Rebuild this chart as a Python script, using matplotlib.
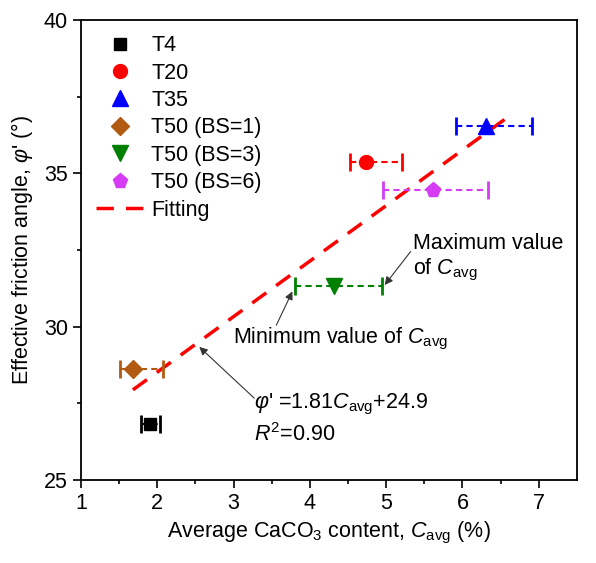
import matplotlib
matplotlib.use('Agg')
import matplotlib.pyplot as plt
from matplotlib.lines import Line2D
import numpy as np

plt.rcParams['font.family'] = ['Liberation Sans', 'DejaVu Sans']
plt.rcParams['mathtext.fontset'] = 'custom'
plt.rcParams['mathtext.rm'] = 'Liberation Sans'
plt.rcParams['mathtext.it'] = 'Liberation Sans:italic'
plt.rcParams['mathtext.bf'] = 'Liberation Sans:bold'

# data
labels = ['T4', 'T20', 'T35', 'T50 (BS=1)', 'T50 (BS=3)', 'T50 (BS=6)']
c_avg = [1.91, 4.74, 6.31, 1.68, 4.32, 5.61]
c_min = [1.79, 4.52, 5.92, 1.51, 3.81, 4.96]
c_max = [2.04, 5.21, 6.91, 2.07, 4.94, 6.33]
phi = [26.82, 35.38, 36.56, 28.63, 31.32, 34.45]
colors = ['black', 'red', 'blue', '#b05a12', 'green', '#d63cf5']
markers = ['s', 'o', '^', 'D', 'v', 'p']
msizes = [8, 10, 11, 9, 11, 11]

fit_slope = 1.81
fit_icpt = 24.9
fit_x = [1.68, 6.55]

FS = 15.5

fig = plt.figure(figsize=(5.96, 5.63), dpi=100)
ax = fig.add_axes([0.136, 0.1474, 0.832, 0.817])

handles = []
for i in range(len(labels)):
    xe = [[c_avg[i] - c_min[i]], [c_max[i] - c_avg[i]]]
    ln, caps, bars = ax.errorbar(c_avg[i], phi[i], xerr=xe, fmt=markers[i],
                                 color=colors[i], ms=msizes[i], capsize=6.5,
                                 capthick=2, elinewidth=1.5, zorder=3)
    for b in bars:
        b.set_linestyle((0, (3, 2)))
    handles.append(Line2D([], [], ls='none', marker=markers[i], color=colors[i],
                          ms=msizes[i], label=labels[i]))

fx = np.array(fit_x)
fl, = ax.plot(fx, fit_slope * fx + fit_icpt, color='red', ls=(0, (5, 3.5)), lw=2.5,
              label='Fitting', zorder=2)
handles.append(fl)

ax.set_xlim(1, 7.5)
ax.set_ylim(25, 40)
ax.set_xticks([1, 2, 3, 4, 5, 6, 7])
ax.set_xticks(np.arange(1.5, 7.5, 1), minor=True)
ax.set_yticks([25, 30, 35, 40])
ax.set_yticks([27.5, 32.5, 37.5], minor=True)
ax.tick_params(which='major', direction='out', length=6, width=1.2, labelsize=FS)
ax.tick_params(which='minor', direction='out', length=3, width=1.2)
for s in ax.spines.values():
    s.set_linewidth(1.3)

ax.set_xlabel(r'Average CaCO$_3$ content, $C_{\rm avg}$ (%)', fontsize=FS)
ax.set_ylabel(r"Effective friction angle, $\varphi$' (°)", fontsize=FS, labelpad=6)

ax.legend(handles=handles, loc='upper left', frameon=False, fontsize=FS,
          handletextpad=0.35, handlelength=2.2, labelspacing=0.3,
          borderaxespad=0.3)

arrow = dict(arrowstyle='-|>', color='#333333', lw=0.8, mutation_scale=12,
             shrinkA=0, shrinkB=0)
ax.text(5.35, 32.24, 'Maximum value\nof $C_{\\rm avg}$', fontsize=FS, ha='left',
        va='center', linespacing=1.15)
ax.annotate('', xy=(4.98, 31.36), xytext=(5.32, 32.45), arrowprops=arrow)
ax.text(2.99, 29.6, 'Minimum value of $C_{\\rm avg}$', fontsize=FS, ha='left',
        va='center')
ax.annotate('', xy=(3.77, 31.15), xytext=(3.56, 30.05), arrowprops=arrow)
ax.text(3.27, 27.0, "$\\varphi$' =1.81$C_{\\rm avg}$+24.9\n$R^2$=0.90", fontsize=FS,
        ha='left', va='center', linespacing=1.35)
ax.annotate('', xy=(2.55, 29.34), xytext=(3.27, 27.67), arrowprops=arrow)

fig.savefig('out.png', dpi=100)
